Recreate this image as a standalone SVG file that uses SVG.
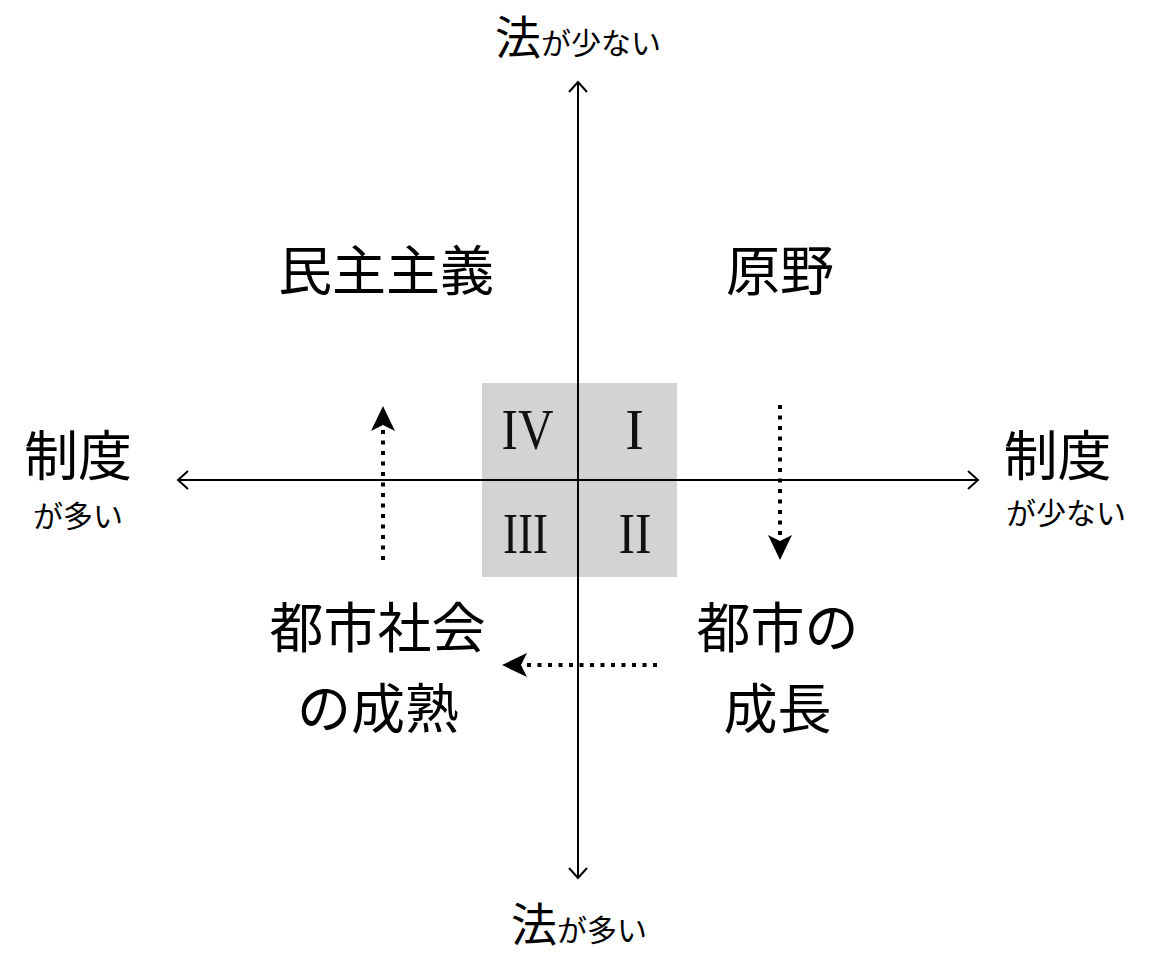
<svg xmlns="http://www.w3.org/2000/svg" width="1163" height="955" viewBox="0 0 1163 955">
<style>
.jp{font-family:"Noto Sans CJK JP","Noto Sans CJK SC",sans-serif;fill:#000;text-anchor:middle}
.big{font-size:54px}
.mid{font-size:46px}
.small{font-size:30px}
.rn{font-family:"Liberation Serif","Times New Roman",serif;font-size:56px;fill:#111;text-anchor:middle}
.axis{stroke:#000;stroke-width:2;fill:none}
.dot{stroke:#000;stroke-width:4;fill:none;stroke-dasharray:4 6.5}
</style>
<defs>
<marker id="chev" markerUnits="userSpaceOnUse" viewBox="-2 -2 14 22" markerWidth="14" markerHeight="22" refX="10" refY="9" orient="auto-start-reverse" overflow="visible">
<path d="M0,0 L10,9 L0,18" fill="none" stroke="#000" stroke-width="2"/>
</marker>
<marker id="stealth" markerUnits="userSpaceOnUse" viewBox="0 0 25 24" markerWidth="25" markerHeight="24" refX="6" refY="12" orient="auto" overflow="visible">
<path d="M25,12 L0,0 L6,12 L0,24 Z" fill="#000"/>
</marker>
</defs>
<g id="quadrant-box">
<rect x="482" y="383" width="195" height="194" fill="#d3d3d3"/>
</g>
<g id="connectors">
<line class="axis" x1="578" y1="878" x2="578" y2="82" marker-start="url(#chev)" marker-end="url(#chev)"/>
<line class="axis" x1="178" y1="480" x2="978" y2="480" marker-start="url(#chev)" marker-end="url(#chev)"/>
<line class="dot" x1="383" y1="560" x2="383" y2="425" marker-end="url(#stealth)"/>
<line class="dot" x1="780" y1="405" x2="780" y2="541" marker-end="url(#stealth)"/>
<line class="dot" x1="657" y1="665" x2="521" y2="665" marker-end="url(#stealth)"/>
</g>
<g id="q4"><text class="rn" x="527.5" y="449" textLength="52" lengthAdjust="spacingAndGlyphs">IV</text></g>
<g id="q1"><text class="rn" x="634.5" y="449">I</text></g>
<g id="q3"><text class="rn" x="525.5" y="553" textLength="45" lengthAdjust="spacingAndGlyphs">III</text></g>
<g id="q2"><text class="rn" x="635" y="553" textLength="33" lengthAdjust="spacingAndGlyphs">II</text></g>
<g id="top-label"><text class="jp" x="578" y="54"><tspan class="mid">法</tspan><tspan class="small">が少ない</tspan></text></g>
<g id="bottom-label"><text class="jp" x="579" y="941"><tspan class="mid">法</tspan><tspan class="small">が多い</tspan></text></g>
<g id="left-label"><text class="jp big" x="78" y="476">制度</text><text class="jp small" x="78" y="527">が多い</text></g>
<g id="right-label"><text class="jp big" x="1057.5" y="476">制度</text><text class="jp small" x="1066" y="524">が少ない</text></g>
<g id="democracy"><text class="jp big" x="386" y="291">民主主義</text></g>
<g id="wilderness"><text class="jp big" x="780" y="291">原野</text></g>
<g id="urban-maturity"><text class="jp big" x="377.5" y="648">都市社会</text><text class="jp big" x="378" y="729">の成熟</text></g>
<g id="urban-growth"><text class="jp big" x="777.5" y="648">都市の</text><text class="jp big" x="777.5" y="729">成長</text></g>
</svg>
